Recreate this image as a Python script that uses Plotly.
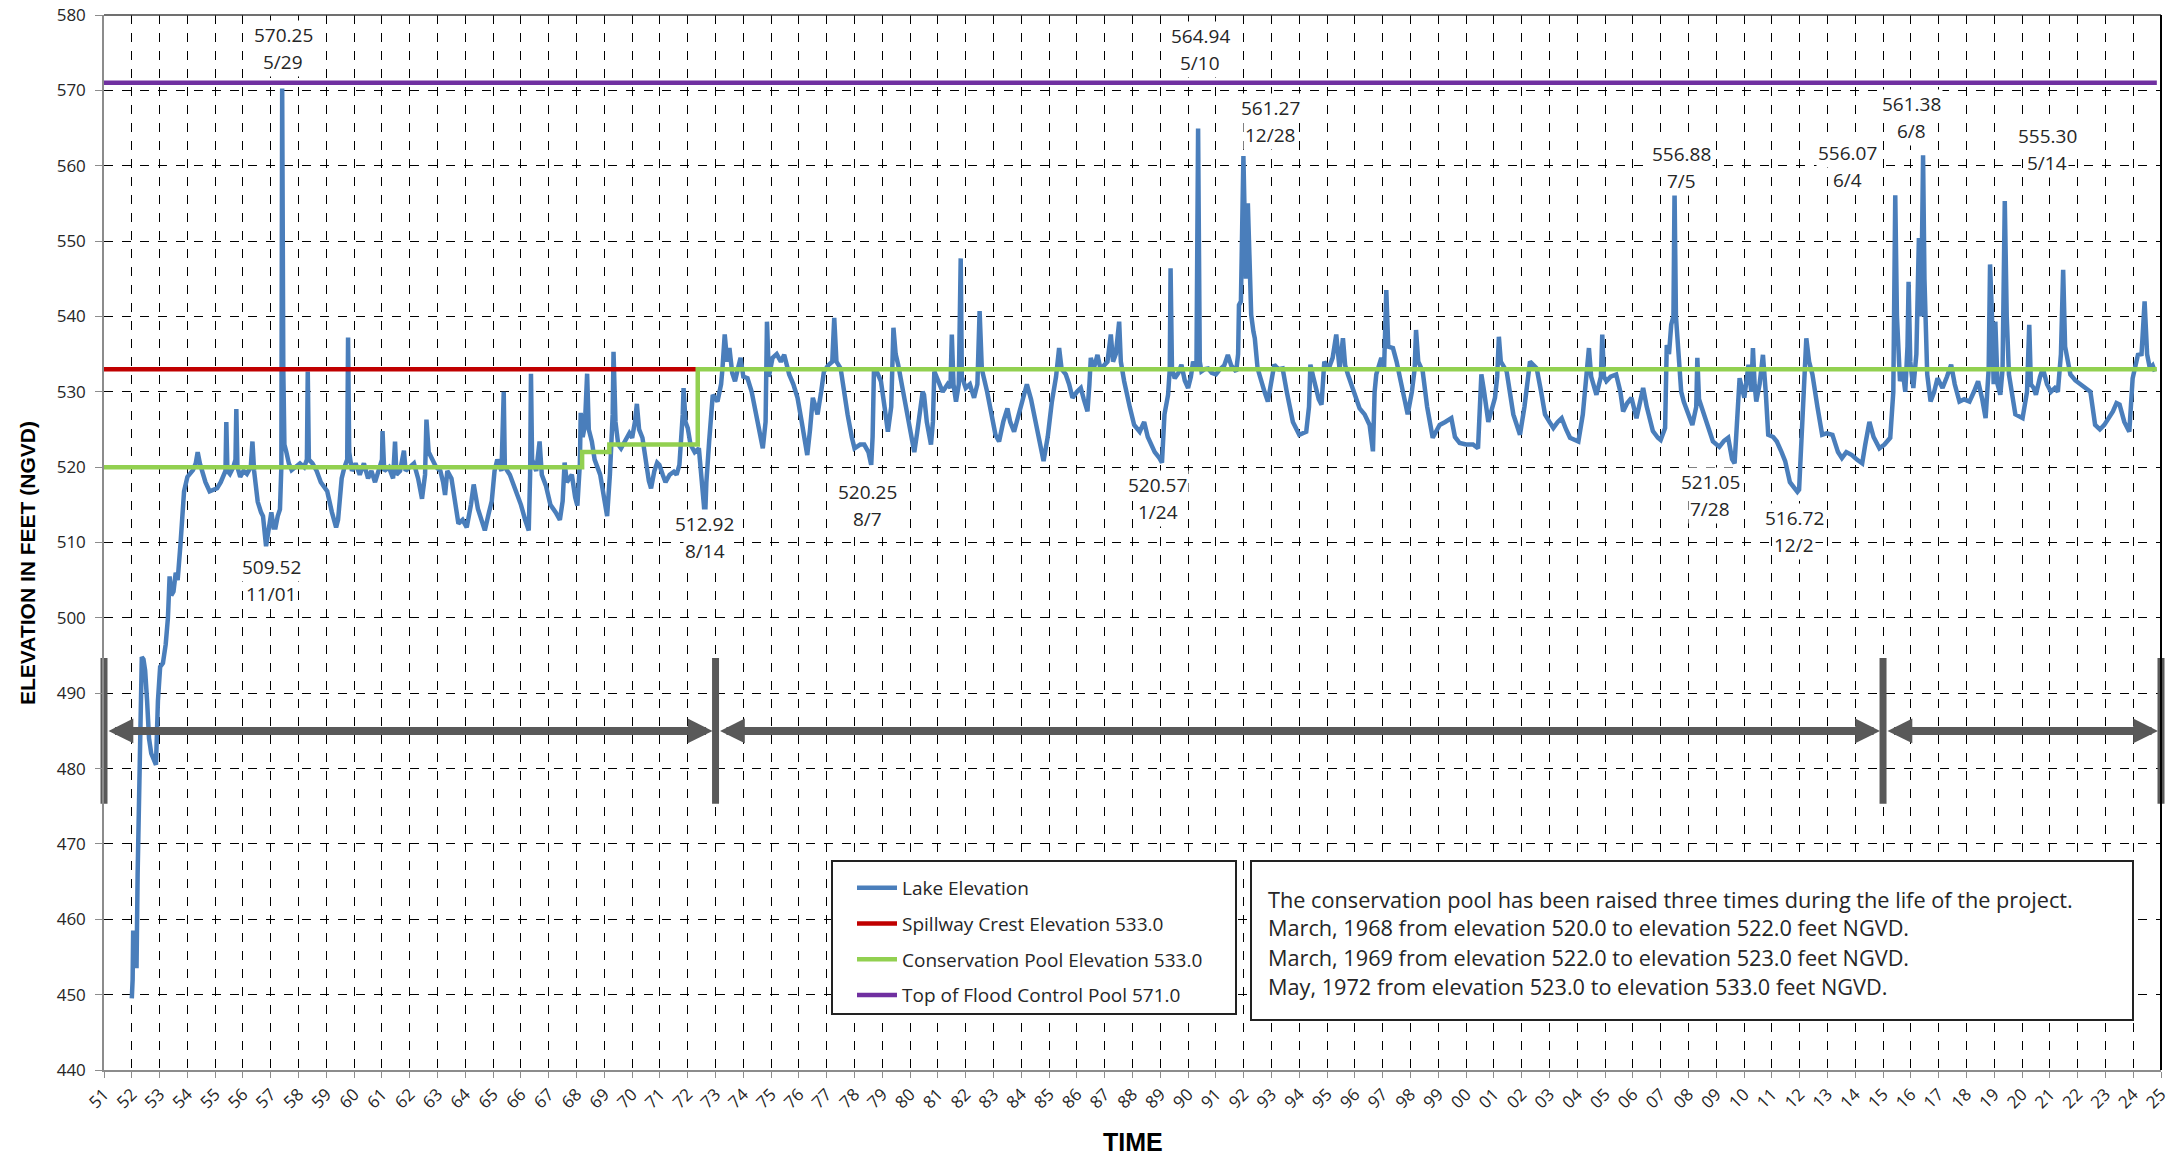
import plotly.graph_objects as go

# ---------------- data (x = years since 1900) ----------------
lake_t = [
    52.00, 52.03, 52.05, 52.09, 52.13, 52.17, 52.21, 52.26, 52.31, 52.36, 52.42, 52.48, 52.55, 52.62, 52.70,
    52.80, 52.87, 52.94, 53.02, 53.12, 53.22, 53.30, 53.36, 53.42, 53.50, 53.58, 53.65, 53.75, 53.88, 54.00,
    54.20, 54.30, 54.37, 54.45, 54.53, 54.65, 54.80, 54.95, 55.07, 55.20, 55.30, 55.37, 55.40, 55.44, 55.53,
    55.65, 55.73, 55.76, 55.80, 55.90, 56.02, 56.14, 56.28, 56.34, 56.40, 56.53, 56.65, 56.72, 56.83, 56.92,
    57.02, 57.10, 57.17, 57.25, 57.33, 57.38, 57.41, 57.45, 57.49, 57.56, 57.65, 57.75, 57.90, 58.05, 58.20,
    58.30, 58.33, 58.37, 58.50, 58.65, 58.80, 59.03, 59.20, 59.35, 59.42, 59.55, 59.65, 59.75, 59.78, 59.82,
    59.92, 60.05, 60.20, 60.35, 60.50, 60.62, 60.75, 60.90, 61.00, 61.02, 61.08, 61.25, 61.40, 61.47, 61.52,
    61.65, 61.79, 61.85, 62.00, 62.15, 62.30, 62.44, 62.55, 62.60, 62.68, 62.80, 62.95, 63.10, 63.20, 63.27,
    63.35, 63.50, 63.60, 63.75, 63.90, 64.05, 64.20, 64.30, 64.45, 64.60, 64.70, 64.85, 64.95, 65.05, 65.15,
    65.30, 65.38, 65.42, 65.60, 65.80, 66.00, 66.15, 66.28, 66.33, 66.36, 66.40, 66.55, 66.67, 66.75, 66.90,
    67.06, 67.25, 67.40, 67.50, 67.57, 67.65, 67.83, 67.95, 68.03, 68.12, 68.15, 68.22, 68.30, 68.38, 68.44,
    68.55, 68.65, 68.85, 69.00, 69.10, 69.20, 69.30, 69.33, 69.40, 69.50, 69.60, 69.75, 69.90, 70.00, 70.10,
    70.17, 70.25, 70.37, 70.45, 70.60, 70.68, 70.80, 70.90, 70.98, 71.10, 71.20, 71.35, 71.50, 71.60, 71.70,
    71.82, 71.85, 71.92, 72.00, 72.10, 72.25, 72.40, 72.50, 72.58, 72.62, 72.67, 72.77, 72.90, 73.07, 73.20,
    73.25, 73.33, 73.42, 73.50, 73.60, 73.70, 73.80, 73.90, 74.00, 74.15, 74.30, 74.45, 74.58, 74.70, 74.80,
    74.85, 74.92, 75.05, 75.20, 75.35, 75.47, 75.65, 75.80, 75.95, 76.10, 76.30, 76.40, 76.50, 76.60, 76.67,
    76.80, 76.90, 77.05, 77.20, 77.27, 77.35, 77.50, 77.62, 77.75, 77.90, 78.00, 78.20, 78.35, 78.50, 78.60,
    78.65, 78.70, 78.82, 78.95, 79.08, 79.20, 79.32, 79.40, 79.48, 79.57, 79.75, 79.90, 80.05, 80.15, 80.25,
    80.33, 80.45, 80.50, 80.60, 80.75, 80.82, 80.87, 81.00, 81.17, 81.35, 81.45, 81.50, 81.56, 81.65, 81.75,
    81.82, 81.86, 82.00, 82.15, 82.30, 82.42, 82.50, 82.58, 82.77, 82.92, 83.07, 83.20, 83.35, 83.50, 83.60,
    83.74, 83.90, 84.05, 84.20, 84.35, 84.57, 84.70, 84.80, 84.95, 85.10, 85.25, 85.36, 85.45, 85.60, 85.72,
    85.84, 86.00, 86.14, 86.25, 86.38, 86.45, 86.50, 86.60, 86.74, 86.85, 86.98, 87.10, 87.22, 87.30, 87.40,
    87.52, 87.58, 87.70, 87.90, 88.06, 88.26, 88.42, 88.55, 88.66, 88.80, 88.97, 89.06, 89.15, 89.28, 89.34,
    89.37, 89.42, 89.52, 89.65, 89.76, 89.88, 90.00, 90.10, 90.18, 90.30, 90.36, 90.42, 90.48, 90.60, 90.72,
    90.85, 91.00, 91.15, 91.30, 91.43, 91.55, 91.73, 91.80, 91.83, 91.90, 91.99, 92.08, 92.15, 92.20, 92.27,
    92.35, 92.40, 92.50, 92.65, 92.75, 92.87, 93.00, 93.10, 93.25, 93.40, 93.55, 93.65, 93.77, 94.00, 94.25,
    94.35, 94.40, 94.50, 94.60, 94.70, 94.80, 94.90, 95.05, 95.20, 95.33, 95.45, 95.57, 95.65, 95.75, 95.95,
    96.17, 96.35, 96.53, 96.65, 96.71, 96.77, 96.95, 97.05, 97.13, 97.20, 97.37, 97.50, 97.60, 97.75, 97.90,
    98.05, 98.15, 98.20, 98.28, 98.44, 98.60, 98.80, 99.05, 99.25, 99.47, 99.60, 99.77, 100.00, 100.25, 100.43,
    100.50, 100.55, 100.65, 100.80, 101.04, 101.12, 101.18, 101.25, 101.46, 101.58, 101.70, 101.94, 102.10, 102.30, 102.54,
    102.70, 102.84, 103.00, 103.14, 103.30, 103.44, 103.60, 103.74, 104.04, 104.20, 104.35, 104.42, 104.50, 104.69, 104.85,
    104.90, 104.96, 105.05, 105.20, 105.40, 105.55, 105.65, 105.80, 105.95, 106.13, 106.28, 106.37, 106.50, 106.72, 106.90,
    107.00, 107.16, 107.22, 107.30, 107.38, 107.46, 107.50, 107.55, 107.64, 107.74, 107.83, 107.98, 108.14, 108.28, 108.32,
    108.38, 108.56, 108.72, 108.88, 109.11, 109.28, 109.43, 109.57, 109.66, 109.76, 109.84, 110.01, 110.16, 110.26, 110.32,
    110.38, 110.44, 110.56, 110.68, 110.78, 110.87, 111.05, 111.18, 111.35, 111.48, 111.65, 111.92, 111.98, 112.04, 112.09,
    112.24, 112.34, 112.46, 112.64, 112.81, 112.98, 113.18, 113.38, 113.52, 113.68, 113.88, 114.06, 114.25, 114.36, 114.51,
    114.66, 114.87, 115.05, 115.26, 115.37, 115.44, 115.50, 115.56, 115.61, 115.70, 115.80, 115.88, 115.92, 115.98, 116.09,
    116.20, 116.29, 116.37, 116.44, 116.49, 116.54, 116.59, 116.71, 116.84, 116.96, 117.14, 117.30, 117.45, 117.58, 117.75,
    117.92, 118.11, 118.27, 118.42, 118.57, 118.69, 118.80, 118.85, 118.92, 118.98, 119.04, 119.12, 119.22, 119.30, 119.38,
    119.45, 119.53, 119.66, 119.76, 120.02, 120.18, 120.26, 120.32, 120.42, 120.50, 120.65, 120.75, 120.90, 121.04, 121.18,
    121.29, 121.40, 121.48, 121.55, 121.74, 121.92, 122.10, 122.28, 122.46, 122.63, 122.80, 122.96, 123.12, 123.27, 123.40,
    123.51, 123.68, 123.86, 123.98, 124.10, 124.17, 124.30, 124.41, 124.50, 124.60, 124.70, 124.78,
]
lake_elev = [
    449.5, 452.0, 458.5, 455.0, 458.0, 453.5, 466.0, 478.0, 488.0, 494.8, 494.5, 493.0, 489.0, 484.0, 482.0,
    481.0, 480.5, 489.0, 493.5, 494.0, 496.5, 500.0, 505.5, 503.0, 503.5, 506.0, 505.0, 509.7, 516.8, 518.7,
    519.6, 520.5, 522.0, 520.5, 519.6, 518.0, 516.8, 517.0, 517.2, 518.0, 518.7, 519.5, 526.0, 519.5, 519.1,
    520.0, 521.0, 527.7, 520.0, 518.7, 519.5, 519.1, 520.0, 523.4, 519.5, 515.4, 514.0, 513.5, 509.5, 511.5,
    514.0, 512.0, 512.0, 513.5, 514.4, 520.0, 570.25, 533.0, 523.0, 522.0, 520.5, 519.6, 520.0, 520.5, 520.0,
    521.0, 532.7, 521.0, 520.5, 519.5, 518.0, 516.8, 514.0, 512.0, 513.0, 518.5, 520.0, 521.0, 537.2, 522.0,
    519.5, 520.5, 519.0, 520.5, 518.5, 519.5, 518.0, 520.0, 521.0, 524.8, 519.5, 520.0, 518.5, 523.4, 519.0,
    519.5, 522.2, 519.5, 520.0, 520.5, 518.5, 515.8, 519.0, 526.3, 522.0, 521.0, 520.0, 519.5, 518.0, 516.3,
    519.5, 518.5, 516.0, 512.5, 513.0, 512.0, 515.0, 517.7, 514.5, 512.5, 511.6, 514.0, 515.5, 519.5, 521.0,
    519.5, 530.0, 520.0, 519.0, 517.0, 515.0, 513.0, 511.6, 519.0, 532.4, 521.0, 519.5, 523.4, 519.0, 517.5,
    515.0, 514.0, 513.0, 515.5, 520.6, 518.0, 519.0, 516.0, 514.9, 520.5, 527.2, 524.0, 525.5, 532.4, 525.0,
    523.4, 521.0, 519.0, 516.0, 513.5, 519.0, 527.0, 535.3, 526.0, 523.0, 522.5, 523.5, 524.5, 523.9, 526.0,
    528.4, 525.0, 523.9, 521.5, 518.2, 517.2, 519.5, 520.6, 520.3, 519.0, 518.0, 519.0, 519.4, 519.0, 520.3,
    527.0, 530.5, 526.0, 525.2, 523.0, 522.0, 522.5, 519.0, 515.0, 512.9, 518.0, 523.4, 529.6, 528.7, 531.0,
    533.1, 537.6, 534.0, 535.8, 532.5, 531.4, 533.0, 534.5, 532.0, 531.8, 530.0, 527.0, 524.5, 522.5, 526.0,
    539.3, 532.0, 534.5, 535.0, 534.0, 534.9, 532.3, 531.0, 529.2, 526.0, 521.6, 525.0, 529.2, 528.0, 527.0,
    530.0, 532.7, 533.5, 534.0, 539.8, 534.0, 533.1, 530.0, 527.0, 524.0, 522.5, 523.0, 523.0, 522.0, 520.3,
    524.0, 533.1, 532.5, 531.4, 528.0, 524.7, 528.0, 538.5, 535.0, 533.6, 530.0, 527.0, 524.0, 522.0, 524.5,
    527.0, 530.0, 529.6, 526.0, 523.0, 526.0, 532.7, 531.5, 530.0, 531.0, 530.5, 537.6, 531.0, 528.7, 531.0,
    547.7, 532.0, 530.5, 531.0, 529.2, 531.0, 540.7, 533.0, 530.0, 527.0, 524.3, 523.4, 526.0, 527.8, 526.0,
    524.7, 527.0, 529.0, 531.0, 529.0, 524.7, 522.0, 520.8, 524.0, 528.7, 532.0, 535.8, 533.0, 532.3, 531.0,
    529.2, 530.0, 530.5, 529.0, 527.4, 531.0, 534.5, 533.0, 534.9, 533.0, 533.6, 534.0, 537.6, 534.0, 535.0,
    539.3, 534.0, 531.4, 528.0, 525.6, 524.7, 526.0, 524.0, 523.0, 522.0, 521.2, 520.6, 527.0, 529.6, 533.0,
    546.4, 533.0, 531.8, 532.5, 533.6, 531.5, 530.5, 532.0, 534.0, 533.0, 564.94, 534.0, 532.7, 533.0, 533.1,
    532.5, 532.3, 533.0, 533.5, 534.9, 533.5, 532.7, 535.0, 541.5, 542.0, 561.27, 545.0, 555.0, 548.0, 540.2,
    538.0, 537.1, 533.1, 531.0, 530.0, 528.7, 531.5, 533.6, 533.0, 533.1, 530.0, 528.0, 526.0, 524.3, 524.7,
    528.0, 533.6, 532.0, 530.5, 529.0, 528.3, 534.0, 533.0, 534.5, 537.6, 533.0, 537.1, 533.5, 532.3, 530.0,
    527.8, 527.0, 525.6, 522.1, 530.0, 532.3, 534.5, 533.0, 543.5, 536.0, 535.8, 534.0, 532.3, 530.0, 527.0,
    530.0, 533.0, 538.2, 534.0, 532.7, 528.0, 523.9, 525.6, 526.0, 526.5, 524.0, 523.2, 523.0, 523.0, 522.5,
    527.0, 532.3, 530.0, 526.0, 529.2, 532.0, 537.3, 534.0, 532.7, 530.0, 527.0, 524.3, 528.0, 534.0, 533.1,
    530.0, 527.0, 526.0, 525.2, 526.0, 526.5, 525.0, 523.9, 523.4, 527.0, 533.0, 535.8, 532.0, 529.6, 532.0,
    537.6, 532.0, 531.4, 532.0, 532.3, 530.0, 527.4, 528.5, 529.2, 526.5, 529.5, 530.5, 528.0, 524.8, 523.9,
    523.6, 525.2, 536.2, 535.0, 538.9, 540.0, 556.88, 540.0, 534.9, 530.0, 528.7, 527.0, 525.6, 528.0, 534.5,
    529.0, 527.0, 525.0, 523.4, 522.7, 523.5, 523.9, 521.05, 520.5, 526.0, 531.8, 529.2, 533.6, 530.0, 535.8,
    531.0, 528.7, 531.0, 534.9, 530.0, 524.3, 524.0, 523.4, 522.0, 520.8, 518.0, 516.72, 517.0, 522.0, 527.0,
    537.1, 534.0, 532.3, 528.0, 524.3, 524.5, 524.3, 522.0, 521.2, 522.0, 521.6, 521.0, 520.5, 523.0, 526.0,
    524.0, 522.5, 523.0, 523.9, 530.0, 556.07, 540.0, 533.0, 531.4, 533.0, 530.0, 536.0, 544.6, 534.0, 530.5,
    535.0, 550.4, 540.0, 561.38, 545.0, 536.0, 532.3, 528.7, 530.0, 531.8, 530.5, 532.0, 533.6, 531.0, 528.7,
    529.0, 528.7, 530.0, 531.4, 529.0, 526.5, 533.0, 546.9, 540.0, 531.0, 539.3, 531.0, 529.6, 533.0, 555.30,
    540.0, 532.3, 529.0, 527.0, 526.5, 530.0, 538.9, 531.0, 530.5, 529.6, 532.0, 533.1, 531.0, 530.0, 530.5,
    530.0, 535.0, 546.2, 536.0, 532.3, 531.5, 531.0, 530.5, 530.0, 525.6, 525.0, 525.6, 526.5, 527.4, 528.5,
    528.3, 526.0, 524.7, 531.8, 534.0, 534.9, 535.0, 542.0, 535.0, 533.1, 533.5, 532.7,
]

spill_t = [51.0, 72.33]
spill_elev = [533.0, 533.0]

cons_t = [51.0, 68.2, 69.18, 72.36, 124.85]
cons_elev = [520.0, 522.0, 523.0, 533.0, 533.0]

flood_t = [51.0, 124.85]
flood_elev = [571.0, 571.0]

series_names = [
    "Lake Elevation",
    "Spillway Crest Elevation 533.0",
    "Conservation Pool Elevation 533.0",
    "Top of Flood Control Pool 571.0",
]

period_bounds = [51, 73, 115, 125]
period_elev = 485

year_ticks = list(range(51, 126))
year_tick_text = ["%02d" % (y % 100) for y in year_ticks]

peak_values = ["570.25", "509.52", "512.92", "520.25", "520.57", "564.94", "561.27",
               "556.88", "521.05", "516.72", "556.07", "561.38", "555.30"]
peak_dates = ["5/29", "11/01", "8/14", "8/7", "1/24", "5/10", "12/28",
              "7/5", "7/28", "12/2", "6/4", "6/8", "5/14"]

note_lines = [
    "The conservation pool has been raised three times during the life of the project.",
    "March, 1968 from elevation 520.0 to elevation 522.0 feet NGVD.",
    "March, 1969 from elevation 522.0 to elevation 523.0 feet NGVD.",
    "May, 1972 from elevation 523.0 to elevation 533.0 feet NGVD.",
]

# ---------------- layout helpers (placement only) ----------------
label_place = [(57.45, 575.6), (57.02, 504.9), (72.62, 510.7), (78.45, 514.9), (88.9, 515.8),
               (90.44, 575.4), (92.95, 565.9), (107.75, 559.7), (108.78, 516.2), (111.8, 511.5),
               (113.73, 559.9), (116.04, 566.4), (120.9, 562.1)]

W, H = 2182, 1156
ML, MR, MT, MB = 104, 21, 15, 86
PW, PH = W - ML - MR, H - MT - MB


def px_x(px):
    """page pixel -> paper x"""
    return (px - ML) / PW


def px_y(py):
    """page pixel -> paper y"""
    return (H - MB - py) / PH


FONT = "Open Sans"
TXT = "#262626"

colors = ["#4a7ebb", "#c00000", "#92d050", "#7030a0"]

fig = go.Figure()
fig.add_trace(go.Scatter(x=lake_t, y=lake_elev, mode="lines", name=series_names[0],
                         line=dict(color=colors[0], width=4.5), legendgroup="a"))
fig.add_trace(go.Scatter(x=spill_t, y=spill_elev, mode="lines", name=series_names[1],
                         line=dict(color=colors[1], width=4.5), legendgroup="b"))
fig.add_trace(go.Scatter(x=cons_t, y=cons_elev, mode="lines", name=series_names[2],
                         line=dict(color=colors[2], width=4.5, shape="hv"), legendgroup="c"))
fig.add_trace(go.Scatter(x=flood_t, y=flood_elev, mode="lines", name=series_names[3],
                         line=dict(color=colors[3], width=4.5), legendgroup="d"))

# period bars
fig.add_trace(go.Scatter(x=period_bounds, y=[period_elev] * len(period_bounds), mode="markers",
                         marker=dict(symbol="line-ns", size=104, color="#595959",
                                     line=dict(width=7, color="#595959")),
                         cliponaxis=False, showlegend=False, hoverinfo="skip"))

annotations = []
for i in range(len(period_bounds) - 1):
    annotations.append(dict(x=period_bounds[i + 1], y=period_elev, ax=period_bounds[i], ay=period_elev,
                            xref="x", yref="y", axref="x", ayref="y", text="", showarrow=True,
                            arrowhead=2, startarrowhead=2, arrowside="end+start",
                            arrowwidth=8, arrowsize=0.62, startarrowsize=0.62,
                            arrowcolor="#595959", standoff=3, startstandoff=3))

for (lx, ly), v, d in zip(label_place, peak_values, peak_dates):
    annotations.append(dict(x=lx, y=ly, xref="x", yref="y", text=v, showarrow=False,
                            xanchor="center", yanchor="middle",
                            yshift=13.5, font=dict(family=FONT, size=19, color=TXT), bgcolor="white"))
    annotations.append(dict(x=lx, y=ly, xref="x", yref="y", text=d, showarrow=False,
                            xanchor="center", yanchor="middle",
                            yshift=-13.5, font=dict(family=FONT, size=19, color=TXT), bgcolor="white"))

note_y = [899, 928, 957, 986]
for t, yy in zip(note_lines, note_y):
    annotations.append(dict(x=px_x(1266), y=px_y(yy), xref="paper", yref="paper", text=t,
                            showarrow=False, xanchor="left", yanchor="middle",
                            font=dict(family=FONT, size=21.7, color=TXT)))

# axis titles
annotations.append(dict(x=px_x(27), y=px_y(563), xref="paper", yref="paper",
                        xanchor="center", yanchor="middle",
                        text="<b>ELEVATION IN FEET (NGVD)</b>", textangle=-90, showarrow=False,
                        font=dict(family="Liberation Sans", size=21, color="black")))
annotations.append(dict(x=px_x(1133), y=px_y(1142), xref="paper", yref="paper",
                        xanchor="center", yanchor="middle",
                        text="<b>TIME</b>", showarrow=False,
                        font=dict(family="Liberation Sans", size=25, color="black")))

shapes = [
    # top and right frame
    dict(type="line", xref="paper", yref="paper", x0=0, x1=1, y0=1, y1=1,
         line=dict(color="#404040", width=1.5)),
    dict(type="line", xref="paper", yref="paper", x0=1, x1=1, y0=0, y1=1,
         line=dict(color="black", width=2)),
    # legend box
    dict(type="rect", xref="paper", yref="paper", x0=px_x(832), x1=px_x(1236), y0=px_y(1014), y1=px_y(861),
         fillcolor="white", line=dict(color="#222", width=2), layer="above"),
    # note box
    dict(type="rect", xref="paper", yref="paper", x0=px_x(1251), x1=px_x(2133), y0=px_y(1020), y1=px_y(861),
         fillcolor="white", line=dict(color="#222", width=2), layer="above"),
]

fig.update_layout(
    width=W, height=H,
    margin=dict(l=ML, r=MR, t=MT, b=MB, autoexpand=False),
    paper_bgcolor="white", plot_bgcolor="white",
    showlegend=True,
    legend=dict(x=px_x(852), y=px_y(869), xanchor="left", yanchor="top",
                font=dict(family=FONT, size=19, color=TXT), bgcolor="rgba(0,0,0,0)",
                borderwidth=0, tracegroupgap=8, traceorder="grouped", itemwidth=40),
    annotations=annotations,
    shapes=shapes,
    xaxis=dict(range=[51, 125], tickmode="array", tickvals=year_ticks, ticktext=year_tick_text,
               tickangle=-45, tickfont=dict(family=FONT, size=17, color=TXT), automargin=False,
               ticklabeloverflow="allow",
               showgrid=True, gridcolor="black", griddash="dash", gridwidth=1.3,
               showline=True, linecolor="#8c8c8c", linewidth=1.5,
               ticks="outside", ticklen=6, tickcolor="#8c8c8c", zeroline=False),
    yaxis=dict(range=[440, 580], dtick=10, tick0=440, automargin=False,
               ticklabeloverflow="allow", ticklabelstandoff=6,
               tickfont=dict(family=FONT, size=17, color=TXT),
               showgrid=True, gridcolor="black", griddash="dash", gridwidth=1.3,
               showline=True, linecolor="#8c8c8c", linewidth=1.5,
               ticks="outside", ticklen=7, tickcolor="#8c8c8c", zeroline=False),
)

fig.write_html("out.html", post_script="document.body.style.margin='0';",
               config={"displayModeBar": False})
